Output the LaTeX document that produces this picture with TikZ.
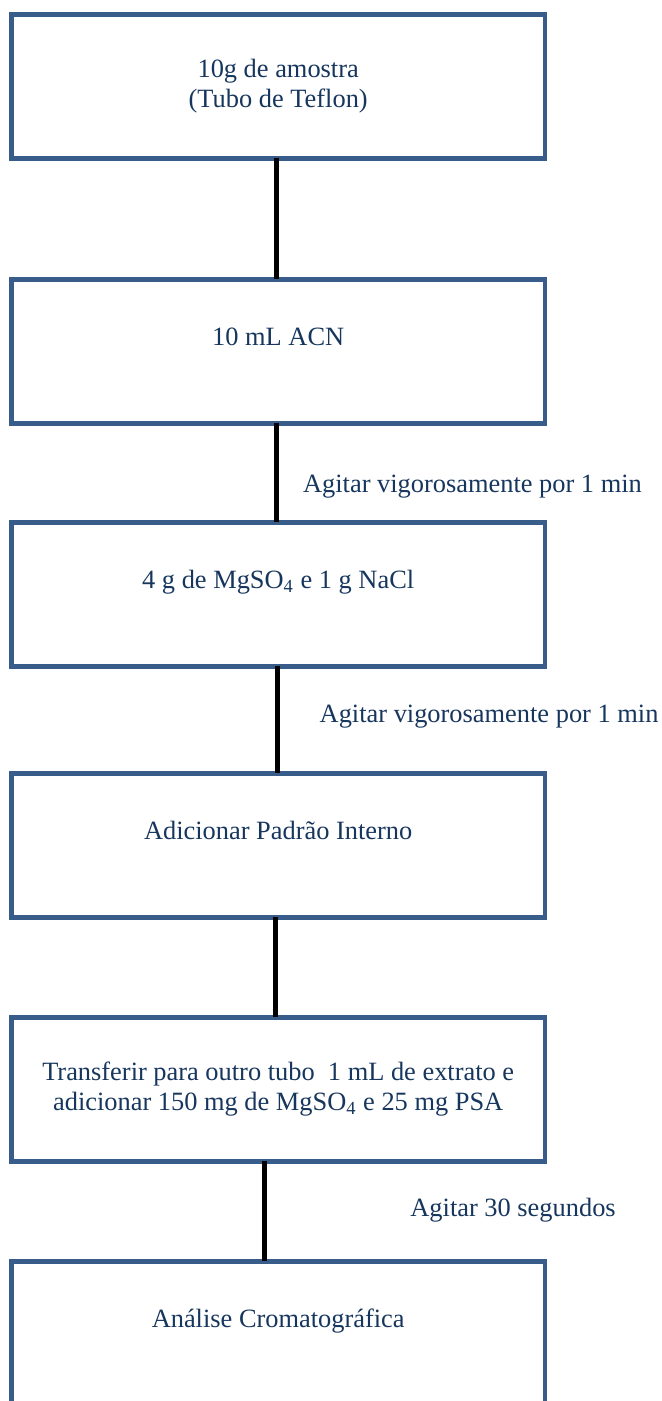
\documentclass[tikz,border=0pt]{standalone}
\usepackage{fontspec}
\setmainfont{Liberation Serif}
\usetikzlibrary{positioning}
\definecolor{boxblue}{HTML}{385D8A}
\definecolor{txtblue}{HTML}{17365D}

\begin{document}
\begin{tikzpicture}[
    node distance=50pt,
    stepbox/.style={rectangle, draw=boxblue, line width=2.25pt, minimum width=266.75pt, minimum height=72pt, inner sep=0pt, outer sep=0pt, align=center, text=txtblue, font=\fontsize{13.2}{15}\selectfont},
    link/.style={line width=2.5pt, draw=black},
    note/.style={anchor=base west, inner sep=0pt, text=txtblue, font=\fontsize{13.2}{15}\selectfont}
]
\useasboundingbox (0,0) rectangle (331pt,-700.5pt);

% Steps
\node[stepbox] (s1) at (139.1pt,-43.2pt) {10g de amostra\\(Tubo de Teflon)};
\node[stepbox, below=60.5pt of s1] (s2) {10 mL ACN\\~};
\node[stepbox, below=49.5pt of s2] (s3) {4 g de MgSO\textsubscript{4} e 1 g NaCl\\~};
\node[stepbox, below=53.5pt of s3] (s4) {Adicionar Padrão Interno\\~};
\node[stepbox, below=50pt of s4] (s5) {Transferir para outro tubo~ 1 mL de extrato e\\adicionar 150 mg de MgSO\textsubscript{4} e 25 mg PSA};
\node[stepbox, below=50pt of s5] (s6) {Análise Cromatográfica\\~};

% Links between steps
\draw[link] ([xshift=-1pt]s1.south) -- ([xshift=-1pt]s2.north);
\draw[link] ([xshift=-1pt]s2.south) -- ([xshift=-1pt]s3.north);
\draw[link] ([xshift=-0.5pt]s3.south) -- ([xshift=-0.5pt]s4.north);
\draw[link] ([xshift=-1.5pt]s4.south) -- ([xshift=-1.5pt]s5.north);
\draw[link] ([xshift=-7pt]s5.south) -- ([xshift=-7pt]s6.north);

% Notes beside the links
\node[note] (n1) at (151.35pt,-246.15pt) {Agitar vigorosamente por 1 min};
\node[note] (n2) at (159.65pt,-361.15pt) {Agitar vigorosamente por 1 min};
\node[note] (n3) at (205pt,-608pt) {Agitar 30 segundos};

\end{tikzpicture}
\end{document}
